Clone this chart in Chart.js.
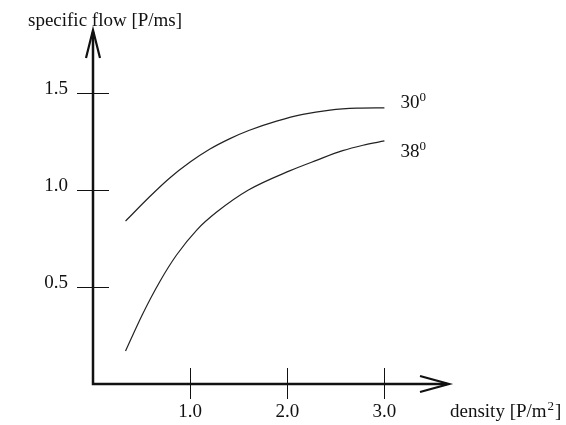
<!DOCTYPE html>
<html>
<head>
<meta charset="utf-8">
<script src="https://cdn.jsdelivr.net/npm/chart.js@4"></script>
<style>
  html, body { margin: 0; padding: 0; background: #fff; }
  #wrap { width: 566px; height: 425px; }
</style>
</head>
<body>
<div id="wrap"><canvas id="flowchart"></canvas></div>
<script>
// values
const density30 = [0.335, 0.58, 0.79, 1.0, 1.2, 1.41, 1.61, 1.89, 2.16, 2.44, 2.72, 3.0];
const flow30    = [0.84, 0.964, 1.062, 1.144, 1.21, 1.265, 1.308, 1.355, 1.39, 1.412, 1.422, 1.424];
const density38 = [0.335, 0.51, 0.69, 0.86, 1.07, 1.27, 1.6, 2.03, 2.3, 2.57, 2.78, 3.0];
const flow38    = [0.17, 0.36, 0.53, 0.665, 0.795, 0.885, 1.0, 1.1, 1.153, 1.203, 1.231, 1.253];
const seriesNames = ['30', '38'];
const xTickValues = [1, 2, 3];
const yTickValues = [0.5, 1, 1.5];

const font = 'Liberation Serif';
const ink = '#111';

function points(xs, ys) {
    return xs.map((x, i) => ({x: x, y: ys[i]}));
}

// axis lines with arrows, crossing tick marks, titles and series labels
const axesPlugin = {
    id: 'axesPlugin',
    afterDraw(chart) {
        const c = chart.ctx;
        const a = chart.chartArea;
        const xs = chart.scales.x;
        const ys = chart.scales.y;
        const x0 = xs.getPixelForValue(0);
        const y0 = ys.getPixelForValue(0);
        c.save();
        c.strokeStyle = ink;
        c.lineCap = 'butt';

        // tick marks through the axis
        c.lineWidth = 1;
        yTickValues.forEach(v => {
            const py = Math.round(ys.getPixelForValue(v)) + 0.5;
            c.beginPath(); c.moveTo(x0 - 16, py); c.lineTo(x0 + 16, py); c.stroke();
        });
        xTickValues.forEach(v => {
            const px = Math.round(xs.getPixelForValue(v)) + 0.5;
            c.beginPath(); c.moveTo(px, y0 - 16); c.lineTo(px, y0 + 15); c.stroke();
        });

        // axes
        c.lineWidth = 2.5;
        c.beginPath();
        c.moveTo(x0, a.top + 2);
        c.lineTo(x0, y0);
        c.lineTo(a.right - 2, y0);
        c.stroke();
        // arrow heads
        c.lineWidth = 2.2;
        c.lineJoin = 'miter';
        c.beginPath();
        c.moveTo(x0 - 7, a.top + 28); c.lineTo(x0, a.top); c.lineTo(x0 + 7, a.top + 28);
        c.stroke();
        c.beginPath();
        c.moveTo(a.right - 29, y0 - 8); c.lineTo(a.right, y0); c.lineTo(a.right - 29, y0 + 8);
        c.stroke();

        // axis titles
        c.fillStyle = ink;
        c.textBaseline = 'alphabetic';
        c.textAlign = 'left';
        c.font = '19px "' + font + '"';
        c.fillText('specific flow [P/ms]', 28, 26);
        let tx = 450, ty = 417;
        c.fillText('density [P/m', tx, ty);
        tx += c.measureText('density [P/m').width + 1;
        c.font = '13px "' + font + '"';
        c.fillText('2', tx, ty - 7);
        tx += c.measureText('2').width + 1;
        c.font = '19px "' + font + '"';
        c.fillText(']', tx, ty);

        // series labels at the end of each curve
        const offsets = [0, 16];
        chart.data.datasets.forEach((ds, i) => {
            const meta = chart.getDatasetMeta(i);
            const last = meta.data[meta.data.length - 1];
            let lx = last.x + 16;
            const ly = last.y + offsets[i];
            c.font = '19px "' + font + '"';
            c.fillText(seriesNames[i], lx, ly);
            lx += c.measureText(seriesNames[i]).width;
            c.font = '13px "' + font + '"';
            c.fillText('0', lx, ly - 7);
        });
        c.restore();
    }
};

const ctx = document.getElementById('flowchart');

new Chart(ctx, {
    type: 'line',
    data: {
        datasets: [
            {
                label: seriesNames[0],
                data: points(density30, flow30),
                borderColor: '#222',
                borderWidth: 1.2,
                pointRadius: 0,
                fill: false,
                cubicInterpolationMode: 'monotone'
            },
            {
                label: seriesNames[1],
                data: points(density38, flow38),
                borderColor: '#222',
                borderWidth: 1.2,
                pointRadius: 0,
                fill: false,
                cubicInterpolationMode: 'monotone'
            }
        ]
    },
    options: {
        responsive: true,
        maintainAspectRatio: false,
        animation: false,
        events: [],
        layout: {
            padding: {left: 0, top: 30, right: 117, bottom: 0}
        },
        plugins: {
            legend: {display: false},
            tooltip: {enabled: false}
        },
        scales: {
            x: {
                type: 'linear',
                min: 0,
                max: 3.665,
                afterBuildTicks: (scale) => { scale.ticks = xTickValues.map(v => ({value: v})); },
                afterFit: (scale) => {
                    scale.height = 41;
                    scale.paddingLeft = 0;
                    scale.paddingRight = 0;
                },
                grid: {display: false, drawTicks: false},
                border: {display: false},
                ticks: {
                    padding: 17,
                    color: ink,
                    font: {family: font, size: 19},
                    callback: (v) => v.toFixed(1)
                }
            },
            y: {
                type: 'linear',
                min: 0,
                max: 1.825,
                afterBuildTicks: (scale) => { scale.ticks = yTickValues.map(v => ({value: v})); },
                afterFit: (scale) => {
                    scale.width = 93;
                    scale.paddingTop = 0;
                    scale.paddingBottom = 0;
                },
                grid: {display: false, drawTicks: false},
                border: {display: false},
                ticks: {
                    padding: 25,
                    labelOffset: -4,
                    color: ink,
                    font: {family: font, size: 19},
                    callback: (v) => v.toFixed(1)
                }
            }
        }
    },
    plugins: [axesPlugin]
});
</script>
</body>
</html>
